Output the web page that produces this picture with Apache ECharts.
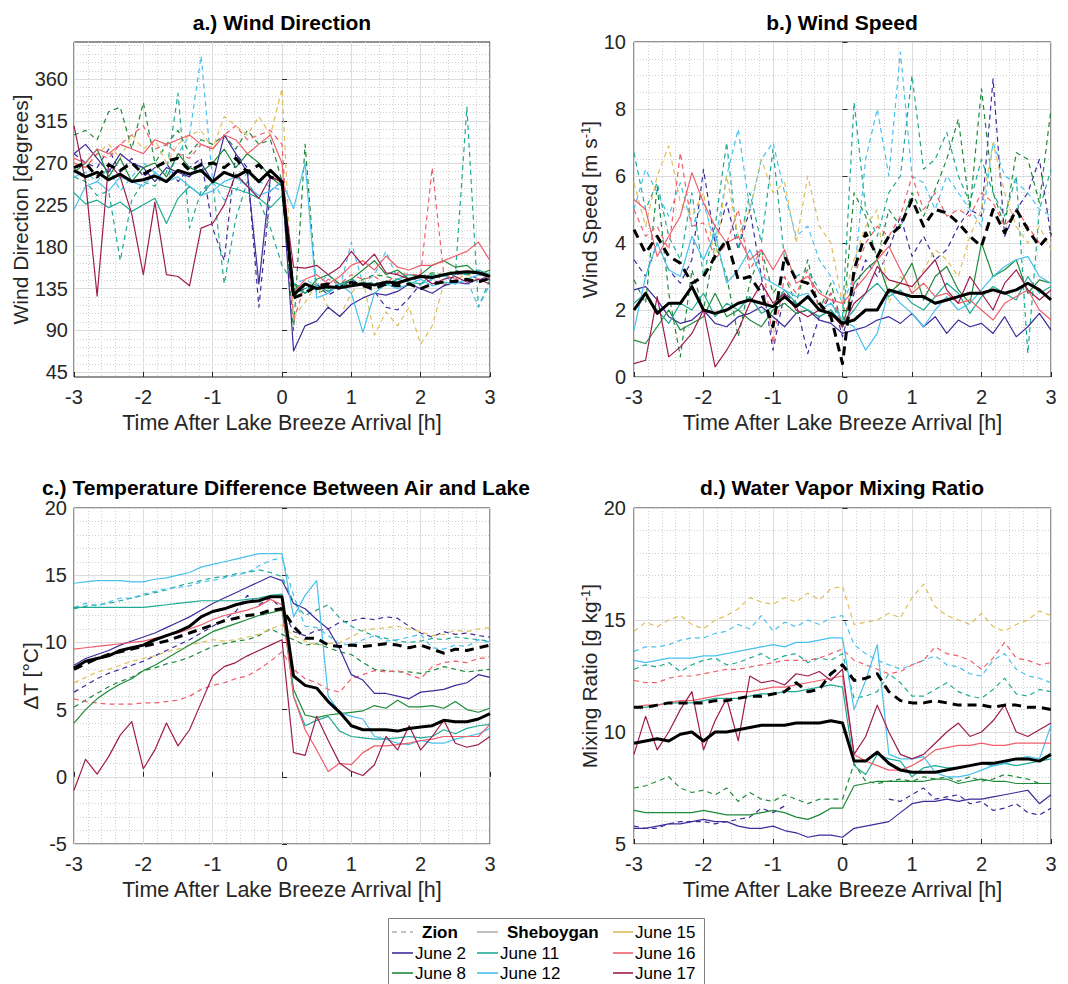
<!DOCTYPE html>
<html><head><meta charset="utf-8">
<script src="https://cdn.jsdelivr.net/npm/echarts@6/dist/echarts.min.js"></script>
<style>html,body{margin:0;padding:0;background:#fff}#chart{width:1068px;height:984px}</style>
</head><body><div id="chart"></div>
<script>
// ---- time axis (minutes after lake breeze arrival) ----
const minutes = [-180,-170,-160,-150,-140,-130,-120,-110,-100,-90,-80,-70,-60,-50,-40,-30,-20,-10,0,10,20,30,40,50,60,70,80,90,100,110,120,130,140,150,160,170,180];

// ---- a.) Wind direction [degrees] ----
const wdir_mean_sheb = [262,255,260,252,258,250,252,256,250,262,258,262,250,260,255,262,250,262,250, 128,140,135,137,136,138,140,139,142,141,145,148,147,150,152,153,152,148];
const wdir_mean_zion = [265,270,255,268,262,270,258,265,272,275,262,268,270,265,275,260,268,255,250, 125,130,138,140,136,142,138,135,140,138,140,135,140,142,143,145,142,146];
const wdir_j2_zion  = [280,270,265,285,260,275,255,265,270,250,265,275,200,165,280,265,115,240,250, 130,135,140,128,135,145,138,132,115,112,125,140,145,138,150,152,145,148];
const wdir_j2_sheb  = [280,290,275,260,280,270,265,250,265,260,255,270,250,300,280,260,140,255,250, 68,95,100,115,105,118,125,130,128,132,140,135,130,138,142,140,145,145];
const wdir_j8_zion  = [300,305,295,325,330,285,335,270,290,305,280,295,290,300,285,305,290,295,250, 90,290,130,135,140,138,145,150,148,145,150,148,152,150,155,150,152,150];
const wdir_j8_sheb  = [260,270,285,255,275,250,265,270,255,280,265,260,270,285,265,280,270,255,245, 140,130,145,150,140,145,155,165,150,155,145,150,160,165,158,160,150,155];
const wdir_j11_zion = [255,250,235,240,165,230,250,245,260,345,200,240,250,140,210,250,230,200,160, 140,135,140,132,138,145,140,142,138,145,150,148,150,145,150,330,115,145];
const wdir_j11_sheb = [238,226,230,222,228,218,225,232,205,232,245,235,250,245,242,238,232,222,235, 135,130,138,132,140,137,142,138,140,145,142,140,150,148,152,150,155,150];
const wdir_j12_zion = [255,260,250,265,240,255,270,260,250,280,300,385,250,230,240,260,250,245,240, 140,145,138,150,135,185,140,150,175,145,150,140,145,150,140,145,115,140];
const wdir_j12_sheb = [220,245,250,240,255,250,245,260,250,255,245,235,240,250,255,245,235,240,250, 221,270,125,130,140,130,88,130,140,135,140,145,138,142,140,145,150,148];
const wdir_j15_zion = [270,265,280,290,275,300,285,295,270,290,300,305,285,320,310,300,320,300,350, 105,120,140,115,105,130,145,85,110,95,115,75,95,140,145,150,145,145];
const wdir_j16_zion = [270,265,280,275,290,300,310,285,290,280,275,290,285,300,310,295,300,305,290, 100,140,135,145,140,150,145,148,140,152,150,150,265,150,145,155,150,145];
const wdir_j16_sheb = [275,270,285,280,290,285,280,295,290,295,300,290,285,300,295,280,290,300,270, 130,145,150,140,148,160,165,155,170,158,155,160,160,165,170,175,185,165];
const wdir_j17_sheb = [310,250,127,270,255,215,150,228,150,148,138,200,205,225,258,245,232,255,250, 158,157,160,150,158,175,160,172,152,150,145,150,140,145,148,142,145,140];

// ---- b.) Wind speed [m/s] ----
const wspd_mean_sheb = [2.0,2.5,1.9,2.2,2.2,2.7,2.0,1.9,2.0,2.2,2.3,2.2,2.1,2.4,2.1,2.4,2.0,1.9,1.6, 1.7,2.0,2.0,2.6,2.5,2.4,2.4,2.2,2.3,2.4,2.5,2.5,2.6,2.5,2.6,2.8,2.6,2.3];
const wspd_mean_zion = [4.4,3.7,4.2,3.6,3.4,2.8,3.0,3.6,4.1,2.9,3.0,2.5,1.5,3.6,2.9,2.8,2.2,1.8,0.4, 3.2,4.3,3.6,4.2,4.5,5.3,4.5,5.0,4.9,4.6,4.2,3.9,5.0,4.3,5.0,4.4,3.9,4.3];
const wspd_j2_zion  = [3.5,3.0,4.0,3.2,2.8,3.5,6.2,4.0,5.2,3.8,5.0,3.0,0.8,2.5,2.2,0.7,1.8,2.5,1.2, 2.5,3.5,3.0,3.8,4.8,3.6,4.2,3.5,3.8,4.5,5.0,4.8,8.9,4.2,5.0,5.5,6.5,4.2];
const wspd_j2_sheb  = [2.6,2.7,2.3,1.8,1.6,1.7,2.0,1.6,1.5,1.8,1.9,2.1,1.8,1.5,1.9,2.0,1.7,1.6,1.3, 1.4,1.5,1.7,1.8,1.6,1.9,1.5,1.8,1.3,1.7,1.5,1.6,1.3,1.8,1.2,1.5,1.9,1.4];
const wspd_j8_zion  = [2.9,2.2,5.7,2.5,0.6,3.2,2.0,4.0,3.0,1.2,2.8,3.8,2.5,3.0,2.2,3.5,2.0,2.8,1.5, 5.5,4.8,3.5,5.0,4.5,5.5,4.8,5.6,6.5,7.7,5.0,8.6,5.5,4.5,6.7,6.5,5.2,8.0];
const wspd_j8_sheb  = [1.1,1.0,1.5,2.0,1.4,1.6,1.8,2.5,1.8,2.0,1.7,1.5,2.0,2.2,1.9,2.0,1.8,2.0,1.5, 2.8,3.2,3.5,2.5,2.8,3.4,2.3,3.0,3.3,2.6,2.2,4.0,3.0,3.2,3.5,2.5,2.9,2.8];
const wspd_j11_zion = [6.7,5.0,5.8,4.2,3.5,5.5,3.0,4.5,7.0,3.8,5.5,4.0,6.8,3.5,3.0,3.2,2.6,2.2,1.8, 8.2,5.0,4.2,5.5,6.0,9.0,6.2,6.5,7.3,6.0,5.2,6.5,5.5,4.8,6.0,0.7,5.0,6.2];
const wspd_j11_sheb = [2.2,2.5,2.0,1.6,2.2,2.0,2.5,1.8,2.2,2.0,2.4,1.9,2.1,2.6,2.2,2.0,1.8,2.0,1.6, 2.0,2.5,2.8,2.4,2.6,2.2,2.0,2.4,2.8,2.5,1.9,2.4,2.7,2.5,2.3,3.0,2.5,2.7];
const wspd_j12_zion = [5.0,6.2,5.5,4.8,5.8,4.5,5.2,4.0,6.0,7.4,5.0,6.5,7.0,5.5,4.2,4.5,3.5,3.0,2.2, 3.0,6.5,8.0,6.0,9.7,6.0,5.8,5.0,6.0,5.5,5.0,4.5,7.0,6.0,5.8,5.5,5.0,4.8];
const wspd_j12_sheb = [1.4,3.0,4.0,3.2,3.0,4.2,3.5,4.3,2.8,3.2,3.8,3.0,2.8,2.6,2.4,2.5,2.0,2.2,1.7, 1.5,0.8,1.3,2.6,2.2,1.9,1.5,2.0,2.4,2.0,2.2,2.6,3.0,3.3,3.5,3.6,3.0,2.8];
const wspd_j15_zion = [5.8,4.5,6.0,6.9,5.2,4.8,5.5,3.5,6.0,4.2,5.0,6.5,5.5,5.8,4.0,6.0,4.5,4.0,2.2, 3.5,4.5,5.0,2.2,3.0,2.5,3.2,3.8,3.5,3.0,4.2,5.0,7.0,5.5,4.5,4.0,4.5,3.8];
const wspd_j16_zion = [5.0,4.2,4.5,3.8,6.7,4.5,4.6,3.5,4.0,5.0,3.2,3.8,1.0,3.0,2.5,3.2,2.0,2.5,1.5, 3.0,4.0,4.5,4.2,4.8,6.0,5.0,5.5,4.8,5.0,4.8,5.5,5.2,4.5,5.0,4.5,4.0,4.2];
const wspd_j16_sheb = [5.3,5.0,3.6,4.2,4.8,6.1,5.2,4.5,4.0,4.2,3.5,3.8,3.2,3.8,2.8,3.0,2.5,2.3,2.2, 2.6,3.0,3.5,3.9,3.2,2.5,2.8,2.4,2.5,2.2,2.3,2.0,1.7,2.2,2.4,2.6,2.0,1.7];
const wspd_j17_sheb = [0.4,0.5,2.4,0.6,0.9,1.3,2.0,0.3,0.8,1.4,2.2,2.8,2.2,2.5,2.0,1.8,2.0,1.9,1.5, 2.2,2.5,3.3,2.9,2.8,2.7,3.1,3.5,2.6,2.2,3.0,2.5,2.0,2.8,3.2,2.6,2.3,2.6];

// ---- c.) Air minus lake temperature [deg C] ----
const dT_mean_sheb = [8.1,8.6,8.8,9.0,9.4,9.6,9.8,10.2,10.5,10.8,11.2,11.9,12.3,12.5,12.8,13.0,13.1,13.4,13.4, 7.5,6.8,6.6,5.6,4.8,3.8,3.5,3.5,3.5,3.4,3.6,3.7,3.8,4.2,4.1,4.1,4.3,4.7];
const dT_mean_zion = [8.0,8.4,8.8,9.1,9.3,9.5,9.7,9.9,10.1,10.4,10.7,11.0,11.3,11.6,11.8,12.0,12.1,12.4,12.5, 11.2,10.3,10.3,9.8,9.7,9.8,9.7,9.8,9.9,9.8,9.6,9.8,9.5,9.2,9.5,9.4,9.6,9.8];
const dT_j2_zion  = [6.3,6.8,7.3,7.7,8.0,8.3,8.6,9.0,9.4,9.8,10.2,10.7,11.2,11.7,12.3,13.5,12.8,13.3,12.5, 10.8,10.5,10.9,11.0,11.5,11.6,11.8,11.7,11.9,11.8,11.2,10.7,10.4,10.8,10.6,10.7,10.5,10.4];
const dT_j2_sheb  = [8.3,8.8,9.1,9.4,9.8,10.1,10.4,10.7,11.1,11.5,11.9,12.4,12.9,13.3,13.7,14.1,14.5,14.9,14.6, 12.9,12.5,11.7,11.0,9.5,7.6,7.2,6.2,6.2,6.0,5.8,6.3,6.4,6.5,6.8,7.0,7.6,7.4];
const dT_j8_zion  = [5.2,5.7,6.2,6.7,7.1,7.4,7.9,8.1,8.4,8.6,8.9,9.3,9.7,9.9,10.1,10.2,10.5,11.0,10.6, 10.2,9.8,9.9,9.6,9.3,9.1,8.5,8.0,7.9,7.8,7.8,7.7,7.9,8.2,8.0,7.8,7.9,8.0];
const dT_j8_sheb  = [4.0,5.0,5.8,6.4,6.9,7.3,7.9,8.3,8.8,9.3,9.8,10.3,10.8,11.1,11.4,11.7,12.0,12.2,12.4, 6.5,4.6,4.4,4.6,4.7,4.8,4.9,5.3,5.1,5.7,5.2,5.2,5.3,5.1,5.6,5.0,4.8,5.1];
const dT_j11_zion = [12.5,12.7,12.8,12.9,13.1,13.3,13.5,13.7,13.9,14.2,14.4,14.6,14.8,14.9,15.1,15.2,15.4,15.2,14.9, 13.0,12.0,12.4,12.8,11.8,11.2,10.8,10.5,10.3,10.1,10.0,10.1,10.3,10.2,10.4,10.3,10.2,10.1];
const dT_j11_sheb = [12.6,12.6,12.6,12.6,12.6,12.6,12.6,12.7,12.8,12.9,13.0,13.1,13.1,13.1,13.1,13.2,13.3,13.5,13.6, 6.0,3.8,4.2,4.5,3.4,3.0,2.9,2.8,2.8,2.9,3.0,2.9,3.0,3.5,3.2,3.6,3.8,3.9];
const dT_j12_zion = [12.6,12.9,12.7,13.0,13.3,13.3,13.6,13.8,14.0,14.1,14.2,14.5,14.6,14.8,15.0,15.2,15.7,16.1,16.3, 13.5,11.2,11.1,10.5,9.9,9.8,10.2,10.5,10.1,10.2,10.4,10.6,9.6,9.5,9.8,9.7,10.2,10.0];
const dT_j12_sheb = [14.4,14.5,14.6,14.6,14.6,14.5,14.5,14.7,14.8,15.0,15.2,15.6,15.8,16.0,16.2,16.4,16.6,16.6,16.6, 11.9,13.5,14.6,6.0,4.8,4.5,4.3,3.0,2.8,2.5,2.4,2.7,2.5,2.5,2.8,3.0,3.2,3.6];
const dT_j15_zion = [7.0,7.4,7.8,8.0,8.3,8.6,8.8,9.0,9.3,9.5,9.8,10.0,10.2,10.1,10.2,10.4,10.6,11.0,11.3, 10.5,10.1,9.8,9.9,10.0,10.4,10.9,11.0,11.1,11.2,11.0,10.8,10.5,10.6,10.9,10.8,11.0,11.1];
const dT_j16_zion = [5.8,5.6,5.5,5.4,5.4,5.4,5.5,5.5,5.6,5.7,6.0,6.5,6.8,7.0,7.3,7.5,8.0,8.6,9.3, 8.0,7.3,7.0,6.5,6.3,7.3,7.6,7.9,7.8,7.9,7.6,7.3,8.2,8.5,8.6,8.5,8.8,8.9];
const dT_j16_sheb = [9.5,9.6,9.7,9.8,9.9,10.0,10.1,10.3,10.5,10.7,11.0,11.3,11.7,12.0,12.2,12.4,12.7,13.2,12.8, 6.0,3.5,2.0,0.4,1.0,0.9,1.8,2.3,2.3,2.4,2.5,2.7,2.8,3.0,3.0,3.0,3.0,3.9];
const dT_j17_sheb = [-1.0,1.3,0.2,1.5,3.1,4.1,0.6,2.0,4.0,2.3,3.5,5.5,7.5,8.2,8.5,9.0,9.4,9.8,10.2, 1.8,1.6,4.5,2.7,1.0,0.4,0.1,0.9,3.0,2.0,3.8,2.0,3.0,4.2,2.5,2.2,2.4,3.0];

// ---- d.) Water vapor mixing ratio [g/kg] ----
const mr_mean_sheb = [9.5,9.6,9.7,9.6,9.9,10.0,9.6,10.0,10.0,10.1,10.2,10.3,10.3,10.3,10.4,10.4,10.4,10.5,10.4, 8.7,8.7,9.1,8.6,8.3,8.2,8.2,8.2,8.3,8.4,8.5,8.6,8.6,8.7,8.8,8.8,8.7,9.0];
const mr_mean_zion = [11.1,11.1,11.2,11.3,11.3,11.3,11.3,11.4,11.4,11.5,11.6,11.6,11.7,11.8,12.2,11.8,11.9,12.6,13.0, 12.3,12.4,12.6,11.8,11.4,11.3,11.3,11.4,11.3,11.2,11.2,11.2,11.1,11.2,11.2,11.1,11.1,11.0];
const mr_j2_zion  = [5.8,5.7,5.7,5.9,6.0,6.0,6.0,5.9,6.0,6.1,6.2,6.6,6.4,6.7,null,null,null,null,null, null,null,null,7.0,6.9,7.2,7.5,7.0,7.1,7.2,6.8,6.9,6.5,6.6,6.8,6.4,6.3,6.6];
const mr_j2_sheb  = [5.7,5.7,5.8,5.9,5.9,6.0,6.1,6.0,6.0,5.8,5.7,5.7,5.8,5.6,5.5,5.3,5.4,5.4,5.3, 5.7,5.8,5.9,6.0,6.4,6.8,6.9,6.9,7.0,6.9,7.0,7.0,7.1,7.2,7.3,7.4,6.8,7.2];
const mr_j8_zion  = [7.5,7.6,7.8,8.0,7.5,7.3,7.4,7.2,7.5,6.9,7.3,7.0,6.9,7.2,7.0,6.8,7.0,7.0,7.0, 8.6,7.8,7.7,7.8,7.9,7.8,8.0,7.9,8.0,7.8,8.0,7.8,7.9,8.1,8.0,7.9,7.7,7.7];
const mr_j8_sheb  = [6.5,6.4,6.4,6.4,6.4,6.4,6.5,6.4,6.3,6.3,6.3,6.4,6.5,6.4,6.2,6.1,6.3,6.6,6.6, 7.6,7.7,7.8,7.8,7.8,7.8,7.8,7.9,7.9,7.7,7.8,7.9,7.8,7.8,7.7,7.7,7.7,7.7];
const mr_j11_zion = [12.8,13.0,12.9,13.1,12.7,13.0,13.2,13.3,13.0,13.1,13.3,13.5,13.2,13.4,13.5,13.1,13.3,13.2,13.5, 11.5,11.6,11.8,12.6,12.2,11.6,11.6,11.9,12.2,11.8,11.6,11.5,11.9,12.4,11.7,11.6,11.9,11.8];
const mr_j11_sheb = [11.1,11.1,11.2,11.3,11.3,11.3,11.4,11.5,11.5,11.5,11.6,11.7,11.7,11.8,11.8,11.9,12.0,12.1,12.0, 8.5,8.1,9.0,8.8,8.7,8.0,8.4,8.5,8.4,8.4,8.5,8.6,8.5,8.6,8.5,8.6,8.7,8.8];
const mr_j12_zion = [13.6,13.8,13.8,13.9,14.1,14.2,14.2,14.4,14.5,14.8,14.6,15.2,14.5,14.9,14.7,15.0,14.8,15.1,15.2, 13.9,13.5,13.2,13.0,12.8,13.0,13.2,13.4,13.0,12.9,12.6,12.5,13.2,13.5,12.8,12.5,12.4,12.2];
const mr_j12_sheb = [13.2,13.1,13.2,13.3,13.3,13.3,13.4,13.4,13.5,13.6,13.7,13.8,13.9,13.8,14.0,14.0,14.1,14.2,14.2, 11.0,12.3,13.9,9.0,8.8,8.8,8.9,8.2,8.0,8.0,8.1,8.3,8.5,8.6,8.8,8.9,8.8,10.3];
const mr_j15_zion = [14.5,14.9,14.7,15.0,15.2,14.8,14.6,15.0,15.2,15.5,16.0,15.8,15.7,16.0,15.8,16.2,15.9,16.4,16.5, 14.8,14.9,15.0,15.3,15.1,16.0,16.6,15.6,15.2,15.0,14.8,15.3,14.7,14.5,14.8,15.0,15.4,15.2];
const mr_j16_zion = [12.3,12.2,12.2,12.4,12.5,12.5,12.6,12.7,12.8,12.8,12.9,13.0,13.1,13.2,13.2,13.2,13.3,13.5,13.7, 13.2,13.0,12.8,12.6,12.7,13.0,13.2,13.8,13.5,13.4,13.2,12.8,13.3,14.0,13.3,13.2,13.0,13.1];
const mr_j16_sheb = [11.1,11.2,11.2,11.3,11.4,11.4,11.5,11.6,11.7,11.8,11.8,11.9,12.0,12.0,12.1,12.2,12.3,12.4,12.5, 9.0,8.7,8.5,8.3,8.3,8.5,8.8,9.2,9.3,9.4,9.4,9.5,9.4,9.4,9.5,9.5,9.5,9.5];
const mr_j17_sheb = [9.0,10.7,9.2,10.0,11.0,11.8,9.2,10.5,11.5,9.6,12.5,12.2,12.3,12.1,12.6,12.5,12.7,12.3,12.8, 9.0,9.8,11.2,10.0,9.0,8.8,9.0,9.5,10.0,10.4,9.8,10.0,10.5,11.2,10.0,9.8,10.1,10.4];

// ---- labels ----
const panelTitles = ['a.) Wind Direction','b.) Wind Speed','c.) Temperature Difference Between Air and Lake','d.) Water Vapor Mixing Ratio'];
const xAxisTitle = 'Time After Lake Breeze Arrival [h]';
const yAxisTitles = ['Wind Direction [degrees]','Wind Speed [m s{sup|-1}]','ΔT [°C]','Mixing Ratio [g kg{sup|-1}]'];
const dirTicks = [45,90,135,180,225,270,315,360];
const legendRows = [['Zion','Sheboygan','June 15'],['June 2','June 11','June 16'],['June 8','June 12','June 17']];

// ---- styling ----
const C = {'June 2':'#3D2C9A','June 8':'#1E8A3A','June 11':'#1FAA95','June 12':'#48C1EE','June 15':'#DDBF5C','June 16':'#EF5F6C','June 17':'#9D1C4F','mean':'#000000'};
const FONT = '"Liberation Sans", Arial, Helvetica, sans-serif';
const INK = '#262626';

const panelSeries = [
  [[wdir_j2_zion,'June 2','z'],[wdir_j8_zion,'June 8','z'],[wdir_j11_zion,'June 11','z'],[wdir_j12_zion,'June 12','z'],[wdir_j15_zion,'June 15','z'],[wdir_j16_zion,'June 16','z'],
   [wdir_j2_sheb,'June 2','s'],[wdir_j8_sheb,'June 8','s'],[wdir_j11_sheb,'June 11','s'],[wdir_j12_sheb,'June 12','s'],[wdir_j16_sheb,'June 16','s'],[wdir_j17_sheb,'June 17','s'],
   [wdir_mean_zion,'mean','z'],[wdir_mean_sheb,'mean','s']],
  [[wspd_j2_zion,'June 2','z'],[wspd_j8_zion,'June 8','z'],[wspd_j11_zion,'June 11','z'],[wspd_j12_zion,'June 12','z'],[wspd_j15_zion,'June 15','z'],[wspd_j16_zion,'June 16','z'],
   [wspd_j2_sheb,'June 2','s'],[wspd_j8_sheb,'June 8','s'],[wspd_j11_sheb,'June 11','s'],[wspd_j12_sheb,'June 12','s'],[wspd_j16_sheb,'June 16','s'],[wspd_j17_sheb,'June 17','s'],
   [wspd_mean_zion,'mean','z'],[wspd_mean_sheb,'mean','s']],
  [[dT_j2_zion,'June 2','z'],[dT_j8_zion,'June 8','z'],[dT_j11_zion,'June 11','z'],[dT_j12_zion,'June 12','z'],[dT_j15_zion,'June 15','z'],[dT_j16_zion,'June 16','z'],
   [dT_j2_sheb,'June 2','s'],[dT_j8_sheb,'June 8','s'],[dT_j11_sheb,'June 11','s'],[dT_j12_sheb,'June 12','s'],[dT_j16_sheb,'June 16','s'],[dT_j17_sheb,'June 17','s'],
   [dT_mean_zion,'mean','z'],[dT_mean_sheb,'mean','s']],
  [[mr_j2_zion,'June 2','z'],[mr_j8_zion,'June 8','z'],[mr_j11_zion,'June 11','z'],[mr_j12_zion,'June 12','z'],[mr_j15_zion,'June 15','z'],[mr_j16_zion,'June 16','z'],
   [mr_j2_sheb,'June 2','s'],[mr_j8_sheb,'June 8','s'],[mr_j11_sheb,'June 11','s'],[mr_j12_sheb,'June 12','s'],[mr_j16_sheb,'June 16','s'],[mr_j17_sheb,'June 17','s'],
   [mr_mean_zion,'mean','z'],[mr_mean_sheb,'mean','s']]
];

const grids = [
  {left:74, top:42, width:416, height:335},
  {left:634, top:42, width:417, height:335},
  {left:74, top:508, width:416, height:336},
  {left:634, top:508, width:417, height:336}
].map(g => Object.assign(g, {show:true, borderColor:INK, borderWidth:1, backgroundColor:'#fff', containLabel:false}));

const majorLine = {show:true, lineStyle:{color:'#dcdcdc', width:1, type:'solid'}};
const minorLine = {show:true, lineStyle:{color:'#cfcfcf', width:1, type:[1,2]}};
const labelStyle = {color:INK, fontSize:20, fontFamily:FONT};
const supRich = {sup:{fontSize:13, fontFamily:FONT, color:INK, verticalAlign:'top', lineHeight:13}};
const xNameStyle = {color:INK, fontSize:21.5, fontFamily:FONT};
const yNameStyle = {color:INK, fontSize:21, fontFamily:FONT, rich:supRich};

const xAxes = grids.map((g,i) => ({
  type:'value', gridIndex:i, min:-3, max:3, interval:1,
  axisLine:{show:false}, axisTick:{show:true, inside:true, length:5, lineStyle:{color:INK}},
  minorTick:{show:false, splitNumber:5}, minorSplitLine:minorLine, splitLine:majorLine,
  axisLabel:Object.assign({margin:10}, labelStyle),
  name:xAxisTitle, nameLocation:'middle', nameGap:35, nameTextStyle:xNameStyle
}));

const dirMinor = [];
for (let v = 45; v <= 400; v += 9) { if (v % 45 !== 0) dirMinor.push(v); }

const yAxes = [
  {type:'value', gridIndex:0, min:40, max:400, position:'left',
   axisLine:{show:false}, axisTick:{show:true, inside:true, length:5, lineStyle:{color:INK}, customValues:dirTicks},
   axisLabel:Object.assign({margin:6, customValues:dirTicks}, labelStyle), splitLine:majorLine,
   name:yAxisTitles[0], nameLocation:'middle', nameGap:42, nameTextStyle:yNameStyle},
  {type:'value', gridIndex:0, min:40, max:400, position:'right',
   axisLine:{show:false}, axisTick:{show:false, customValues:dirMinor}, axisLabel:{show:false}, splitLine:minorLine},
  {type:'value', gridIndex:1, min:0, max:10, interval:2,
   axisLine:{show:false}, axisTick:{show:true, inside:true, length:5, lineStyle:{color:INK}},
   minorTick:{show:false, splitNumber:4}, minorSplitLine:minorLine, splitLine:majorLine,
   axisLabel:Object.assign({margin:8}, labelStyle),
   name:yAxisTitles[1], nameLocation:'middle', nameGap:32, nameTextStyle:yNameStyle},
  {type:'value', gridIndex:2, min:-5, max:20, interval:5,
   axisLine:{show:false}, axisTick:{show:true, inside:true, length:5, lineStyle:{color:INK}},
   minorTick:{show:false, splitNumber:5}, minorSplitLine:minorLine, splitLine:majorLine,
   axisLabel:Object.assign({margin:7}, labelStyle),
   name:yAxisTitles[2], nameLocation:'middle', nameGap:31, nameTextStyle:yNameStyle},
  {type:'value', gridIndex:3, min:5, max:20, interval:5,
   axisLine:{show:false}, axisTick:{show:true, inside:true, length:5, lineStyle:{color:INK}},
   minorTick:{show:false, splitNumber:5}, minorSplitLine:minorLine, splitLine:majorLine,
   axisLabel:Object.assign({margin:8}, labelStyle),
   name:yAxisTitles[3], nameLocation:'middle', nameGap:32, nameTextStyle:yNameStyle}
];
const yIndexOfPanel = [0,2,3,4];

function toPoints(arr){ return arr.map((v,i) => [minutes[i]/60, v]); }

const series = [];
panelSeries.forEach((list, p) => {
  list.forEach(([arr, key, st]) => {
    const isMean = key === 'mean';
    series.push({
      type:'line', name:(isMean ? 'Mean' : key) + (st === 'z' ? ' Zion' : ' Sheboygan'),
      xAxisIndex:p, yAxisIndex:yIndexOfPanel[p],
      data:toPoints(arr), showSymbol:false, symbol:'none', connectNulls:false, silent:true,
      lineStyle:{color:C[key], width:isMean ? 3 : 1.2, type:st === 'z' ? (isMean ? [9,6] : [5,4]) : 'solid', join:'round'},
      z: isMean ? 5 : 3
    });
  });
});

// titles
const graphics = [];
const titlePos = [[282,22],[842,22],[286,487],[842,487]];
panelTitles.forEach((t,i) => graphics.push({type:'text', x:titlePos[i][0], y:titlePos[i][1], z:10,
  style:{text:t, font:'bold 21px ' + FONT, fill:'#000', align:'center', verticalAlign:'middle', textAlign:'center', textVerticalAlign:'middle'}}));

// legend box
graphics.push({type:'rect', shape:{x:388.5, y:918.5, width:316, height:80}, style:{fill:'#fff', stroke:'#7f7f7f', lineWidth:1}, z:10});
const legendCols = [[392,413],[477,498],[613,633]];
const legendRowY = [932,953,973];
legendRows.forEach((row, r) => row.forEach((label, c) => {
  const [x1, x2] = legendCols[c];
  const y = legendRowY[r];
  let stroke, dash = null, bold = false, tx;
  if (label === 'Zion') { stroke = '#b0b0b0'; dash = [5,4]; bold = true; tx = 422; }
  else if (label === 'Sheboygan') { stroke = '#b0b0b0'; bold = true; tx = 507; }
  else { stroke = C[label]; tx = x2 + 2; }
  graphics.push({type:'line', shape:{x1:x1, y1:y, x2:x2, y2:y}, style:{stroke:stroke, lineWidth:1.6, lineDash:dash}, z:11});
  graphics.push({type:'text', x:tx, y:y, z:11, style:{text:label, font:(bold ? 'bold ' : '') + '17px ' + FONT, fill:'#000', align:'left', verticalAlign:'middle', textAlign:'left', textVerticalAlign:'middle'}});
}));

const chart = echarts.init(document.getElementById('chart'), null, {renderer:'svg', width:1068, height:984});
chart.setOption({
  animation:false, backgroundColor:'#fff',
  grid:grids, xAxis:xAxes, yAxis:yAxes, series:series, graphic:graphics,
  tooltip:{show:false}
});
</script>
</body></html>
